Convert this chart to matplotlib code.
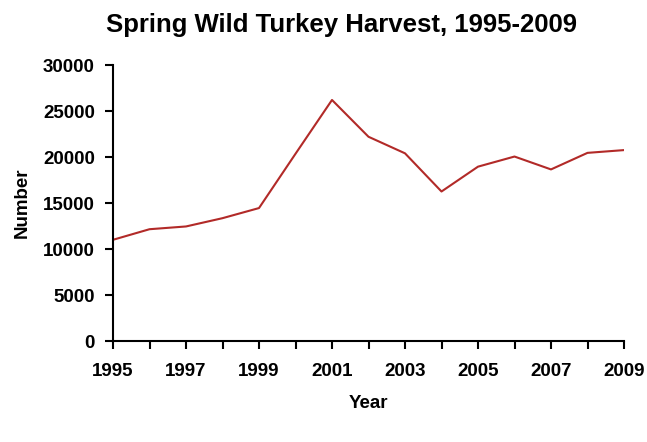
import matplotlib
matplotlib.use("Agg")
import matplotlib.pyplot as plt
import numpy as np

years = [1995, 1996, 1997, 1998, 1999, 2000, 2001, 2002,
         2003, 2004, 2005, 2006, 2007, 2008, 2009]
harvest = [11000, 12150, 12450, 13350, 14450, 20350, 26200, 22200,
           20400, 16250, 18950, 20050, 18650, 20450, 20750]

yticks = [0, 5000, 10000, 15000, 20000, 25000, 30000]
xlabels = [str(y) if y % 2 == 1 else "" for y in years]

plt.rcParams['font.family'] = ['Liberation Sans', 'DejaVu Sans']
plt.rcParams['font.weight'] = 'bold'

fig = plt.figure(figsize=(6.47, 4.42), dpi=100)
ax = fig.add_axes([113/647, 1 - 341/442, 511/647, 276/442])

ax.plot(years, harvest, color="#b22a28", lw=1.5)

ax.set_xlim(1995, 2009)
ax.set_ylim(0, 30000)
ax.set_xticks(years)
ax.set_xticklabels(xlabels)
ax.set_yticks(yticks)
ax.set_yticklabels([str(v) for v in yticks])

for s in ["top", "right"]:
    ax.spines[s].set_visible(False)
for s in ["left", "bottom"]:
    ax.spines[s].set_linewidth(1.5)
    ax.spines[s].set_color("black")

ax.tick_params(axis="both", direction="out", length=6, width=1.5,
               labelsize=13.5)
ax.tick_params(axis="x", pad=10)
ax.tick_params(axis="y", pad=7)
for lab in ax.get_xticklabels() + ax.get_yticklabels():
    lab.set_fontweight("bold")

fig.text(341/647, 1 - 25/442, "Spring Wild Turkey Harvest, 1995-2009",
         ha="center", va="center", fontsize=18.5, fontweight="bold")
fig.text(368/647, 1 - 404/442, "Year", ha="center", va="center",
         fontsize=13.5, fontweight="bold")
fig.text(22/647, 1 - 203/442, "Number", ha="center", va="center",
         rotation=90, fontsize=13.5, fontweight="bold")

fig.savefig("out.png", dpi=100)
